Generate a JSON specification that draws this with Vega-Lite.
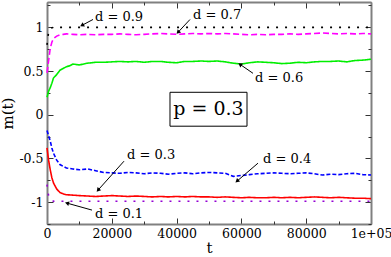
{
  "$schema": "https://vega.github.io/schema/vega-lite/v6.json",
  "width": 324,
  "height": 222,
  "autosize": {"type": "none"},
  "padding": {"left": 47, "top": 2, "right": 20, "bottom": 33},
  "background": "white",
  "config": {
    "view": {"stroke": null},
    "axis": {
      "grid": false,
      "domainColor": "#808080",
      "domainWidth": 2,
      "tickColor": "#333333",
      "tickWidth": 1,
      "labelFont": "DejaVu Serif",
      "labelFontSize": 12.5,
      "labelColor": "black",
      "titleFont": "DejaVu Serif",
      "titleFontWeight": "normal",
      "titleFontSize": 15,
      "titleColor": "black",
      "labelFlush": false,
      "labelOverlap": false
    }
  },
  "datasets": {
    "series": [
      {"d": "0.9", "t": 0, "m": 0.8}, {"d": "0.9", "t": 500, "m": 0.95}, {"d": "0.9", "t": 1000, "m": 0.99}, {"d": "0.9", "t": 2000, "m": 1.0}, {"d": "0.9", "t": 100000, "m": 1.0},
      {"d": "0.7", "t": 0, "m": 0.48}, {"d": "0.7", "t": 500, "m": 0.62}, {"d": "0.7", "t": 1000, "m": 0.76}, {"d": "0.7", "t": 1500, "m": 0.83}, {"d": "0.7", "t": 2000, "m": 0.87}, {"d": "0.7", "t": 3000, "m": 0.9}, {"d": "0.7", "t": 4000, "m": 0.915}, {"d": "0.7", "t": 5000, "m": 0.92}, {"d": "0.7", "t": 6000, "m": 0.925}, {"d": "0.7", "t": 8000, "m": 0.92}, {"d": "0.7", "t": 10000, "m": 0.915}, {"d": "0.7", "t": 12500, "m": 0.92}, {"d": "0.7", "t": 15000, "m": 0.915}, {"d": "0.7", "t": 17500, "m": 0.92}, {"d": "0.7", "t": 20000, "m": 0.92}, {"d": "0.7", "t": 22500, "m": 0.925}, {"d": "0.7", "t": 25000, "m": 0.92}, {"d": "0.7", "t": 27500, "m": 0.915}, {"d": "0.7", "t": 30000, "m": 0.92}, {"d": "0.7", "t": 32500, "m": 0.925}, {"d": "0.7", "t": 35000, "m": 0.93}, {"d": "0.7", "t": 37500, "m": 0.925}, {"d": "0.7", "t": 40000, "m": 0.92}, {"d": "0.7", "t": 42500, "m": 0.925}, {"d": "0.7", "t": 45000, "m": 0.93}, {"d": "0.7", "t": 47500, "m": 0.925}, {"d": "0.7", "t": 50000, "m": 0.93}, {"d": "0.7", "t": 52500, "m": 0.925}, {"d": "0.7", "t": 55000, "m": 0.93}, {"d": "0.7", "t": 57500, "m": 0.925}, {"d": "0.7", "t": 60000, "m": 0.92}, {"d": "0.7", "t": 62500, "m": 0.915}, {"d": "0.7", "t": 65000, "m": 0.92}, {"d": "0.7", "t": 67500, "m": 0.915}, {"d": "0.7", "t": 70000, "m": 0.92}, {"d": "0.7", "t": 72500, "m": 0.92}, {"d": "0.7", "t": 75000, "m": 0.925}, {"d": "0.7", "t": 77500, "m": 0.92}, {"d": "0.7", "t": 80000, "m": 0.925}, {"d": "0.7", "t": 82500, "m": 0.93}, {"d": "0.7", "t": 85000, "m": 0.935}, {"d": "0.7", "t": 87500, "m": 0.93}, {"d": "0.7", "t": 90000, "m": 0.925}, {"d": "0.7", "t": 92500, "m": 0.93}, {"d": "0.7", "t": 95000, "m": 0.925}, {"d": "0.7", "t": 97500, "m": 0.93}, {"d": "0.7", "t": 100000, "m": 0.925},
      {"d": "0.6", "t": 0, "m": 0.2}, {"d": "0.6", "t": 500, "m": 0.27}, {"d": "0.6", "t": 1000, "m": 0.31}, {"d": "0.6", "t": 1500, "m": 0.36}, {"d": "0.6", "t": 2000, "m": 0.42}, {"d": "0.6", "t": 3000, "m": 0.46}, {"d": "0.6", "t": 4000, "m": 0.51}, {"d": "0.6", "t": 5000, "m": 0.53}, {"d": "0.6", "t": 6000, "m": 0.55}, {"d": "0.6", "t": 7000, "m": 0.56}, {"d": "0.6", "t": 8000, "m": 0.58}, {"d": "0.6", "t": 10000, "m": 0.57}, {"d": "0.6", "t": 12500, "m": 0.59}, {"d": "0.6", "t": 15000, "m": 0.6}, {"d": "0.6", "t": 17500, "m": 0.6}, {"d": "0.6", "t": 20000, "m": 0.605}, {"d": "0.6", "t": 22500, "m": 0.61}, {"d": "0.6", "t": 25000, "m": 0.605}, {"d": "0.6", "t": 27500, "m": 0.61}, {"d": "0.6", "t": 30000, "m": 0.6}, {"d": "0.6", "t": 32500, "m": 0.61}, {"d": "0.6", "t": 35000, "m": 0.61}, {"d": "0.6", "t": 37500, "m": 0.6}, {"d": "0.6", "t": 40000, "m": 0.595}, {"d": "0.6", "t": 42500, "m": 0.61}, {"d": "0.6", "t": 45000, "m": 0.61}, {"d": "0.6", "t": 47500, "m": 0.615}, {"d": "0.6", "t": 50000, "m": 0.61}, {"d": "0.6", "t": 52500, "m": 0.615}, {"d": "0.6", "t": 55000, "m": 0.605}, {"d": "0.6", "t": 57500, "m": 0.59}, {"d": "0.6", "t": 60000, "m": 0.58}, {"d": "0.6", "t": 62500, "m": 0.595}, {"d": "0.6", "t": 65000, "m": 0.605}, {"d": "0.6", "t": 67500, "m": 0.6}, {"d": "0.6", "t": 70000, "m": 0.595}, {"d": "0.6", "t": 72500, "m": 0.585}, {"d": "0.6", "t": 75000, "m": 0.59}, {"d": "0.6", "t": 77500, "m": 0.6}, {"d": "0.6", "t": 80000, "m": 0.595}, {"d": "0.6", "t": 82500, "m": 0.605}, {"d": "0.6", "t": 85000, "m": 0.61}, {"d": "0.6", "t": 87500, "m": 0.61}, {"d": "0.6", "t": 90000, "m": 0.615}, {"d": "0.6", "t": 92500, "m": 0.605}, {"d": "0.6", "t": 95000, "m": 0.62}, {"d": "0.6", "t": 97500, "m": 0.625}, {"d": "0.6", "t": 100000, "m": 0.635},
      {"d": "0.4", "t": 0, "m": -0.18}, {"d": "0.4", "t": 500, "m": -0.24}, {"d": "0.4", "t": 1000, "m": -0.3}, {"d": "0.4", "t": 1500, "m": -0.38}, {"d": "0.4", "t": 2000, "m": -0.44}, {"d": "0.4", "t": 3000, "m": -0.52}, {"d": "0.4", "t": 4000, "m": -0.57}, {"d": "0.4", "t": 5000, "m": -0.59}, {"d": "0.4", "t": 6000, "m": -0.61}, {"d": "0.4", "t": 8000, "m": -0.62}, {"d": "0.4", "t": 10000, "m": -0.63}, {"d": "0.4", "t": 12500, "m": -0.62}, {"d": "0.4", "t": 15000, "m": -0.64}, {"d": "0.4", "t": 17500, "m": -0.66}, {"d": "0.4", "t": 20000, "m": -0.665}, {"d": "0.4", "t": 22500, "m": -0.67}, {"d": "0.4", "t": 25000, "m": -0.66}, {"d": "0.4", "t": 27500, "m": -0.665}, {"d": "0.4", "t": 30000, "m": -0.675}, {"d": "0.4", "t": 32500, "m": -0.665}, {"d": "0.4", "t": 35000, "m": -0.67}, {"d": "0.4", "t": 37500, "m": -0.68}, {"d": "0.4", "t": 40000, "m": -0.67}, {"d": "0.4", "t": 42500, "m": -0.665}, {"d": "0.4", "t": 45000, "m": -0.675}, {"d": "0.4", "t": 47500, "m": -0.665}, {"d": "0.4", "t": 50000, "m": -0.66}, {"d": "0.4", "t": 52500, "m": -0.665}, {"d": "0.4", "t": 55000, "m": -0.67}, {"d": "0.4", "t": 57500, "m": -0.705}, {"d": "0.4", "t": 60000, "m": -0.695}, {"d": "0.4", "t": 62500, "m": -0.685}, {"d": "0.4", "t": 65000, "m": -0.675}, {"d": "0.4", "t": 67500, "m": -0.67}, {"d": "0.4", "t": 70000, "m": -0.665}, {"d": "0.4", "t": 72500, "m": -0.67}, {"d": "0.4", "t": 75000, "m": -0.675}, {"d": "0.4", "t": 77500, "m": -0.67}, {"d": "0.4", "t": 80000, "m": -0.665}, {"d": "0.4", "t": 82500, "m": -0.675}, {"d": "0.4", "t": 85000, "m": -0.69}, {"d": "0.4", "t": 87500, "m": -0.68}, {"d": "0.4", "t": 90000, "m": -0.685}, {"d": "0.4", "t": 92500, "m": -0.675}, {"d": "0.4", "t": 95000, "m": -0.67}, {"d": "0.4", "t": 97500, "m": -0.685}, {"d": "0.4", "t": 100000, "m": -0.69},
      {"d": "0.3", "t": 0, "m": -0.38}, {"d": "0.3", "t": 500, "m": -0.52}, {"d": "0.3", "t": 1000, "m": -0.63}, {"d": "0.3", "t": 1500, "m": -0.72}, {"d": "0.3", "t": 2000, "m": -0.78}, {"d": "0.3", "t": 3000, "m": -0.85}, {"d": "0.3", "t": 4000, "m": -0.89}, {"d": "0.3", "t": 5000, "m": -0.905}, {"d": "0.3", "t": 6000, "m": -0.915}, {"d": "0.3", "t": 8000, "m": -0.92}, {"d": "0.3", "t": 10000, "m": -0.925}, {"d": "0.3", "t": 12500, "m": -0.93}, {"d": "0.3", "t": 15000, "m": -0.935}, {"d": "0.3", "t": 17500, "m": -0.93}, {"d": "0.3", "t": 20000, "m": -0.925}, {"d": "0.3", "t": 22500, "m": -0.93}, {"d": "0.3", "t": 25000, "m": -0.935}, {"d": "0.3", "t": 27500, "m": -0.93}, {"d": "0.3", "t": 30000, "m": -0.935}, {"d": "0.3", "t": 32500, "m": -0.94}, {"d": "0.3", "t": 35000, "m": -0.935}, {"d": "0.3", "t": 37500, "m": -0.94}, {"d": "0.3", "t": 40000, "m": -0.935}, {"d": "0.3", "t": 42500, "m": -0.94}, {"d": "0.3", "t": 45000, "m": -0.935}, {"d": "0.3", "t": 47500, "m": -0.94}, {"d": "0.3", "t": 50000, "m": -0.94}, {"d": "0.3", "t": 52500, "m": -0.945}, {"d": "0.3", "t": 55000, "m": -0.94}, {"d": "0.3", "t": 57500, "m": -0.945}, {"d": "0.3", "t": 60000, "m": -0.95}, {"d": "0.3", "t": 62500, "m": -0.945}, {"d": "0.3", "t": 65000, "m": -0.95}, {"d": "0.3", "t": 67500, "m": -0.95}, {"d": "0.3", "t": 70000, "m": -0.945}, {"d": "0.3", "t": 72500, "m": -0.95}, {"d": "0.3", "t": 75000, "m": -0.945}, {"d": "0.3", "t": 77500, "m": -0.95}, {"d": "0.3", "t": 80000, "m": -0.945}, {"d": "0.3", "t": 82500, "m": -0.94}, {"d": "0.3", "t": 85000, "m": -0.945}, {"d": "0.3", "t": 87500, "m": -0.95}, {"d": "0.3", "t": 90000, "m": -0.945}, {"d": "0.3", "t": 92500, "m": -0.95}, {"d": "0.3", "t": 95000, "m": -0.955}, {"d": "0.3", "t": 97500, "m": -0.955}, {"d": "0.3", "t": 100000, "m": -0.96},
      {"d": "0.1", "t": 0, "m": -0.8}, {"d": "0.1", "t": 500, "m": -0.93}, {"d": "0.1", "t": 1000, "m": -0.97}, {"d": "0.1", "t": 2000, "m": -0.99}, {"d": "0.1", "t": 100000, "m": -0.99}
    ],
    "arrows": [
      {"d": "0.9", "t": 14200, "m": 1.09, "t2": 10800, "m2": 1.023, "a": 241},
      {"d": "0.7", "t": 44140, "m": 1.09, "t2": 40430, "m2": 0.943, "a": 223},
      {"d": "0.6", "t": 63580, "m": 0.474, "t2": 59570, "m2": 0.577, "a": 305},
      {"d": "0.4", "t": 65120, "m": -0.554, "t2": 58640, "m2": -0.76, "a": 229},
      {"d": "0.3", "t": 23770, "m": -0.531, "t2": 15740, "m2": -0.863, "a": 222},
      {"d": "0.1", "t": 13890, "m": -1.091, "t2": 6170, "m2": -1.011, "a": 286}
    ],
    "labels": [
      {"label": "d = 0.9", "t": 14800, "m": 1.114},
      {"label": "d = 0.7", "t": 45060, "m": 1.137},
      {"label": "d = 0.6", "t": 64200, "m": 0.417},
      {"label": "d = 0.4", "t": 66670, "m": -0.509},
      {"label": "d = 0.3", "t": 24690, "m": -0.463},
      {"label": "d = 0.1", "t": 14810, "m": -1.137}
    ],
    "box": [
      {"label": "p = 0.3", "t": 37960, "t2": 61730, "m": 0.257, "m2": -0.131, "tc": 49850, "mc": 0.07}
    ],
    "dummy": [{"t": 0, "m": 0}]
  },
  "layer": [
    {
      "layer": [
        {
          "data": {"name": "box"},
          "mark": {"type": "rect", "fill": "white", "stroke": "black", "strokeWidth": 1},
          "encoding": {
            "x": {"field": "t", "type": "quantitative", "scale": {"domain": [0, 100000], "nice": false, "zero": false}},
            "x2": {"field": "t2"},
            "y": {"field": "m", "type": "quantitative", "scale": {"domain": [-1.25, 1.29], "nice": false, "zero": false}},
            "y2": {"field": "m2"}
          }
        },
        {
          "data": {"name": "series"},
          "mark": {"type": "line", "strokeWidth": 1.6, "interpolate": "linear"},
          "encoding": {
            "x": {
              "field": "t", "type": "quantitative",
              "scale": {"domain": [0, 100000], "nice": false, "zero": false},
              "axis": {
                "orient": "bottom", "title": "t", "values": [0, 20000, 40000, 60000, 80000, 100000],
                "format": "d", "labelExpr": "datum.value == 100000 ? '1e+05' : datum.label",
                "tickSize": -6, "labelPadding": 9, "titlePadding": 1
              }
            },
            "y": {
              "field": "m", "type": "quantitative",
              "scale": {"domain": [-1.25, 1.29], "nice": false, "zero": false},
              "axis": {
                "orient": "left", "title": "m(t)", "values": [-1, -0.5, 0, 0.5, 1],
                "labelExpr": "'' + datum.value", "tickSize": -6, "labelPadding": 10, "titlePadding": 3
              }
            },
            "color": {
              "field": "d", "type": "nominal", "legend": null,
              "scale": {"domain": ["0.9", "0.7", "0.6", "0.4", "0.3", "0.1"], "range": ["#000000", "#ff00ff", "#00ee00", "#0000ff", "#ff0000", "#9400d3"]}
            },
            "strokeDash": {
              "field": "d", "type": "nominal", "legend": null,
              "scale": {"domain": ["0.9", "0.7", "0.6", "0.4", "0.3", "0.1"], "range": [[2, 7], [6, 3], [1, 0], [4, 2], [1, 0], [2, 7]]}
            }
          }
        },
        {
          "data": {"name": "arrows"},
          "mark": {"type": "rule", "color": "black", "strokeWidth": 1},
          "encoding": {
            "x": {"field": "t", "type": "quantitative", "scale": {"domain": [0, 100000], "nice": false, "zero": false}},
            "y": {"field": "m", "type": "quantitative", "scale": {"domain": [-1.25, 1.29], "nice": false, "zero": false}},
            "x2": {"field": "t2"},
            "y2": {"field": "m2"}
          }
        },
        {
          "data": {"name": "arrows"},
          "mark": {"type": "point", "shape": "triangle-up", "filled": true, "color": "black", "size": 22, "opacity": 1},
          "encoding": {
            "x": {"field": "t2", "type": "quantitative", "scale": {"domain": [0, 100000], "nice": false, "zero": false}},
            "y": {"field": "m2", "type": "quantitative", "scale": {"domain": [-1.25, 1.29], "nice": false, "zero": false}},
            "angle": {"field": "a", "type": "quantitative", "scale": null}
          }
        },
        {
          "data": {"name": "labels"},
          "mark": {"type": "text", "align": "left", "baseline": "middle", "fontSize": 13, "font": "DejaVu Serif", "color": "black"},
          "encoding": {
            "x": {"field": "t", "type": "quantitative", "scale": {"domain": [0, 100000], "nice": false, "zero": false}},
            "y": {"field": "m", "type": "quantitative", "scale": {"domain": [-1.25, 1.29], "nice": false, "zero": false}},
            "text": {"field": "label"}
          }
        },
        {
          "data": {"name": "box"},
          "mark": {"type": "text", "align": "center", "baseline": "middle", "fontSize": 19, "font": "DejaVu Serif", "color": "black"},
          "encoding": {
            "x": {"field": "tc", "type": "quantitative", "scale": {"domain": [0, 100000], "nice": false, "zero": false}},
            "y": {"field": "mc", "type": "quantitative", "scale": {"domain": [-1.25, 1.29], "nice": false, "zero": false}},
            "text": {"field": "label"}
          }
        }
      ]
    },
    {
      "data": {"name": "dummy"},
      "mark": {"type": "point", "opacity": 0},
      "encoding": {
        "x": {"field": "t", "type": "quantitative", "scale": {"domain": [0, 100000], "nice": false, "zero": false},
          "axis": {"orient": "bottom", "title": null, "values": [10000, 30000, 50000, 70000, 90000], "labels": false, "domain": false, "tickSize": -3}},
        "y": {"field": "m", "type": "quantitative", "scale": {"domain": [-1.25, 1.29], "nice": false, "zero": false},
          "axis": {"orient": "left", "title": null, "values": [-1.25, -0.75, -0.25, 0.25, 0.75, 1.25], "labels": false, "domain": false, "tickSize": -3}}
      }
    },
    {
      "data": {"name": "dummy"},
      "mark": {"type": "point", "opacity": 0},
      "encoding": {
        "x": {"field": "t", "type": "quantitative", "scale": {"domain": [0, 100000], "nice": false, "zero": false},
          "axis": {"orient": "top", "title": null, "values": [0, 20000, 40000, 60000, 80000, 100000], "labels": false, "tickSize": -6}},
        "y": {"field": "m", "type": "quantitative", "scale": {"domain": [-1.25, 1.29], "nice": false, "zero": false},
          "axis": {"orient": "right", "title": null, "values": [-1, -0.5, 0, 0.5, 1], "labels": false, "tickSize": -6}}
      }
    },
    {
      "data": {"name": "dummy"},
      "mark": {"type": "point", "opacity": 0},
      "encoding": {
        "x": {"field": "t", "type": "quantitative", "scale": {"domain": [0, 100000], "nice": false, "zero": false},
          "axis": {"orient": "top", "title": null, "values": [10000, 30000, 50000, 70000, 90000], "labels": false, "domain": false, "tickSize": -3}},
        "y": {"field": "m", "type": "quantitative", "scale": {"domain": [-1.25, 1.29], "nice": false, "zero": false},
          "axis": {"orient": "right", "title": null, "values": [-1.25, -0.75, -0.25, 0.25, 0.75, 1.25], "labels": false, "domain": false, "tickSize": -3}}
      }
    }
  ],
  "resolve": {"scale": {"x": "independent", "y": "independent"}}
}
